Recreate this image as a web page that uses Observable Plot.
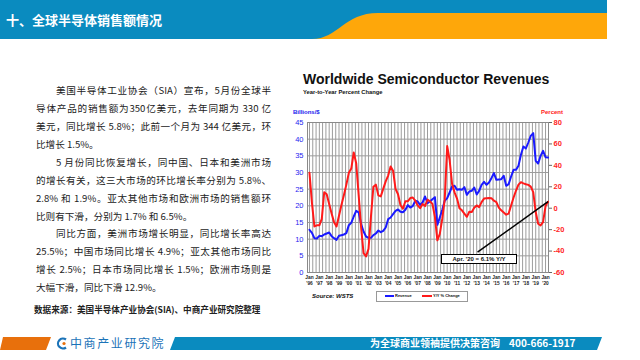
<!DOCTYPE html>
<html><head><meta charset="utf-8">
<script src="https://cdn.jsdelivr.net/npm/d3@7"></script>
<script src="https://cdn.jsdelivr.net/npm/@observablehq/plot@0.6"></script>
<style>
body{margin:0;width:640px;height:360px;position:relative;overflow:hidden;background:#fff;font-family:"Noto Sans CJK SC","Noto Sans",sans-serif}
.abs{position:absolute}
.ln{position:absolute;left:36px;width:235px;height:14px;line-height:14px;font-size:9.6px;color:#222}
.j{text-align:justify;text-align-last:justify}
.en{font-family:"Liberation Sans",Arial,sans-serif;font-weight:bold;white-space:nowrap}
</style></head><body>
<svg class="abs" style="left:0;top:0" width="640" height="42">
  <rect x="0" y="0" width="607" height="39" fill="#0a8bbf"/>
  <path d="M312,39 C338,39 344,13 378,13 L607,13 L607,39 Z" fill="#fea70a"/>
</svg>
<div class="abs" style="left:6px;top:11px;font-size:13px;font-weight:bold;color:#fff;line-height:18px">十、全球半导体销售额情况</div>

<div id="text"></div>

<div class="abs en" style="left:303px;top:70px;font-size:14px;line-height:18px;color:#111">Worldwide Semiconductor Revenues</div>
<div class="abs en" style="left:303px;top:88px;font-size:5.8px;line-height:8px;color:#111">Year-to-Year Percent Change</div>
<div class="abs en" style="left:293px;top:108px;font-size:6px;line-height:8px;color:#2020ee">Billions/$</div>
<div class="abs en" style="left:541px;top:108px;font-size:6px;line-height:8px;color:#ff2020">Percent</div>

<div id="chart" class="abs" style="left:270px;top:100px"></div>

<div class="abs en" style="left:441px;top:254px;width:74px;height:8px;border:1.3px solid #000;background:#fff;font-size:6px;line-height:8px;text-align:center;color:#111">Apr. '20 = 6.1% Y/Y</div>

<div class="abs en" style="left:312px;top:292px;font-size:6px;line-height:8px;font-style:italic;color:#111">Source: WSTS</div>
<div class="abs" style="left:376px;top:291px;width:90px;height:9px;border:1px solid #999;background:#fff"></div>
<div class="abs" style="left:385px;top:295px;width:9px;height:1.5px;background:#1a1aff"></div>
<div class="abs en" style="left:395px;top:293px;font-size:4px;line-height:5px;color:#111">Revenue</div>
<div class="abs" style="left:422px;top:295px;width:10px;height:1.5px;background:#ff1a1a"></div>
<div class="abs en" style="left:433px;top:293px;font-size:4px;line-height:5px;color:#111">Y/Y % Change</div>

<svg class="abs" style="left:0;top:330px" width="640" height="30">
  <polygon points="3,7 51,7 46,20 0,20" fill="#e8700c"/>
  <polygon points="175,7 602,7 597,20 170,20" fill="#0a8bbf"/>
  <path d="M66,9.5 A5,5 0 1 0 66,17.5" fill="none" stroke="#1b73b8" stroke-width="2.2"/>
  <circle cx="64" cy="13.5" r="1.6" fill="#e8700c"/>
</svg>
<div class="abs" style="left:70px;top:335px;font-size:12px;letter-spacing:1.6px;line-height:16px;color:#1b73b8">中商产业研究院</div>
<div class="abs" style="left:370px;top:336px;font-size:10px;line-height:14px;color:#fff;white-space:nowrap;font-weight:bold">为全球商业领袖提供决策咨询&nbsp;&nbsp;&nbsp;&nbsp;400-666-1917</div>

<script>
// ---- paragraph text ----
const bodyLines = [
  "美国半导体工业协会（SIA）宣布，5月份全球半",
  "导体产品的销售额为350亿美元，去年同期为 330 亿",
  "美元，同比增长 5.8%；此前一个月为 344 亿美元，环",
  "比增长 1.5%。",
  "5 月份同比恢复增长，同中国、日本和美洲市场",
  "的增长有关，这三大市场的环比增长率分别为 5.8%、",
  "2.8% 和 1.9%。亚太其他市场和欧洲市场的销售额环",
  "比则有下滑，分别为 1.7% 和 6.5%。",
  "同比方面，美洲市场增长明显，同比增长率高达",
  "25.5%；中国市场同比增长 4.9%；亚太其他市场同比",
  "增长 2.5%；日本市场同比增长 1.5%；欧洲市场则是",
  "大幅下滑，同比下滑 12.9%。"
];
const indentedLines = [0, 4, 8];
const lastLines = [3, 7, 11];
const sourceText = "数据来源：美国半导体产业协会(SIA)、中商产业研究院整理";

// ---- chart data (quarterly: Jan, Apr, Jul, Oct; Jan 1996 – Apr 2020) ----
const revenue = [
  12.8, 11.9, 10.3, 10.2,
  11.0, 10.9, 11.4, 11.7,
  12.0, 10.9, 10.3, 9.8,
  11.0, 11.2, 11.4, 11.8,
  14.2, 14.9, 16.8, 18.5,
  18.0, 14.5, 12.3, 10.8,
  10.4, 10.4, 11.2, 11.7,
  12.6, 12.1, 12.5, 13.5,
  16.0, 16.5, 17.5, 18.5,
  18.9, 18.2, 18.1, 18.8,
  20.2, 19.5, 19.9, 21.5,
  21.3, 20.3, 21.0, 22.8,
  20.8, 21.3, 22.0, 22.6,
  14.3, 16.5, 18.8, 21.5,
  22.3, 24.0, 25.8, 26.0,
  24.8, 25.0, 24.8, 25.6,
  23.3, 24.3, 24.5, 25.5,
  23.4, 24.5, 26.3, 27.2,
  26.3, 27.0, 28.3, 29.8,
  27.8, 27.9, 28.0, 29.0,
  26.0, 26.5, 28.8, 30.8,
  30.8, 32.0, 35.3, 37.8,
  37.2, 39.0, 41.0, 41.8,
  33.5, 32.7, 35.0, 36.5,
  34.6, 34.5
];
const yoyChange = [
  33, 5, -17, -16,
  -16, -10, 15, 13,
  4, -5, -13, -17,
  -7, 3, 12, 22,
  33, 37, 52, 42,
  12, -18, -42, -45,
  -38, -8, 20, 22,
  12, 11, 18, 25,
  30.5, 39, 35, 18,
  13, 3, -0.5, 6.5,
  6.5, 9.5, 10, 7,
  2.6, 0, 4, 2,
  8, 6.5, 4, -8,
  -30, -24, -10, 8,
  58, 45, 22.7, 14.8,
  9, 0, -2, -5,
  -8, -3.3, -3.5, 0.5,
  2.6, 1, 5.7, 9,
  9.4, 9.5, 9.4, 7,
  5.7, 0.5, -2, -4,
  -6, -5, 2.6, 10,
  16.5, 22, 24.3, 23.2,
  22.4, 21.8, 20.2, 15,
  -3.6, -14.5, -16, -13,
  2, 6.1
];
const yearTicks = d3.range(1996, 2021);
const leftTicks = [0, 5, 10, 15, 20, 25, 30, 35, 40, 45];
const rightTicks = [-60, -40, -20, 0, 20, 40, 60, 80];
const annoStart = ["2013-02-01", -41];
const annoEnd = ["2020-04-01", 6.1];

// ---- build text ----
const tbox = document.getElementById("text");
const centers = [89.5, 107.5, 125.5, 143.5, 161.5, 179.5, 197.5, 215.5, 233, 251, 269, 287];
bodyLines.forEach((t, i) => {
  const d = document.createElement("div");
  d.className = "ln" + (lastLines.includes(i) ? "" : " j");
  d.textContent = t;
  d.style.top = (centers[i] - 7) + "px";
  if (indentedLines.includes(i)) { d.style.left = "56px"; d.style.width = "215px"; }
  tbox.appendChild(d);
});
const s = document.createElement("div");
s.className = "ln";
s.style.cssText = "top:302px;left:34px;width:260px;font-size:8.6px;font-weight:bold;color:#222";
s.textContent = sourceText;
tbox.appendChild(s);

// ---- chart ----
const lo = -60, hi = 80, ymax = 45;
const p2l = p => (p - lo) * ymax / (hi - lo);
const l2p = v => Math.round(v * (hi - lo) / ymax + lo);
const rows = revenue.map((v, i) => ({date: new Date(Date.UTC(1996, i * 3, 1)), rev: v, pct: yoyChange[i]}));
const x0 = new Date(Date.UTC(1995, 9, 19)), x1 = new Date(Date.UTC(2020, 3, 20));
const gridDates = d3.utcMonth.every(4).range(new Date(Date.UTC(1996, 0, 1)), x1);
const anno = [{x1: new Date(annoStart[0]), y1: p2l(annoStart[1]), x2: new Date(annoEnd[0]), y2: p2l(annoEnd[1])}];

const chart = Plot.plot({
  width: 310, height: 190,
  marginLeft: 37, marginRight: 32, marginTop: 22, marginBottom: 18,
  x: {type: "utc", domain: [x0, x1]},
  y: {domain: [0, ymax]},
  style: {fontFamily: "'Liberation Sans', Arial, sans-serif", background: "transparent", overflow: "visible"},
  marks: [
    Plot.ruleX(gridDates, {stroke: "#9c9c9c", strokeWidth: 1}),
    Plot.ruleY(leftTicks, {stroke: "#9c9c9c", strokeWidth: 1}),
    Plot.frame({stroke: "#8a8a8a"}),
    Plot.axisY(leftTicks, {anchor: "left", tickSize: 0, tickPadding: 4, fill: "#2525f0", fontSize: 7.5, label: null}),
    Plot.axisY(rightTicks.map(p2l), {anchor: "right", tickSize: 3, tickPadding: 2, stroke: "#666", fill: "#ff2525", fontSize: 7.5, fontWeight: "bold", tickFormat: l2p, label: null}),
    Plot.axisX(yearTicks.map(y => new Date(Date.UTC(y, 0, 1))), {tickSize: 0, tickPadding: 3, fontSize: 4.8, fontWeight: "bold", fill: "#222", lineHeight: 1.15, tickFormat: d => `Jan\n'${String(d.getUTCFullYear()).slice(2)}`, label: null}),
    Plot.lineY(rows, {x: "date", y: "rev", stroke: "#1a1aff", strokeWidth: 2}),
    Plot.lineY(rows, {x: "date", y: d => p2l(d.pct), stroke: "#ff1a1a", strokeWidth: 2}),
    Plot.link(anno, {x1: "x1", y1: "y1", x2: "x2", y2: "y2", stroke: "#000", strokeWidth: 1.5})
  ]
});
document.getElementById("chart").appendChild(chart);
</script>
</body></html>
